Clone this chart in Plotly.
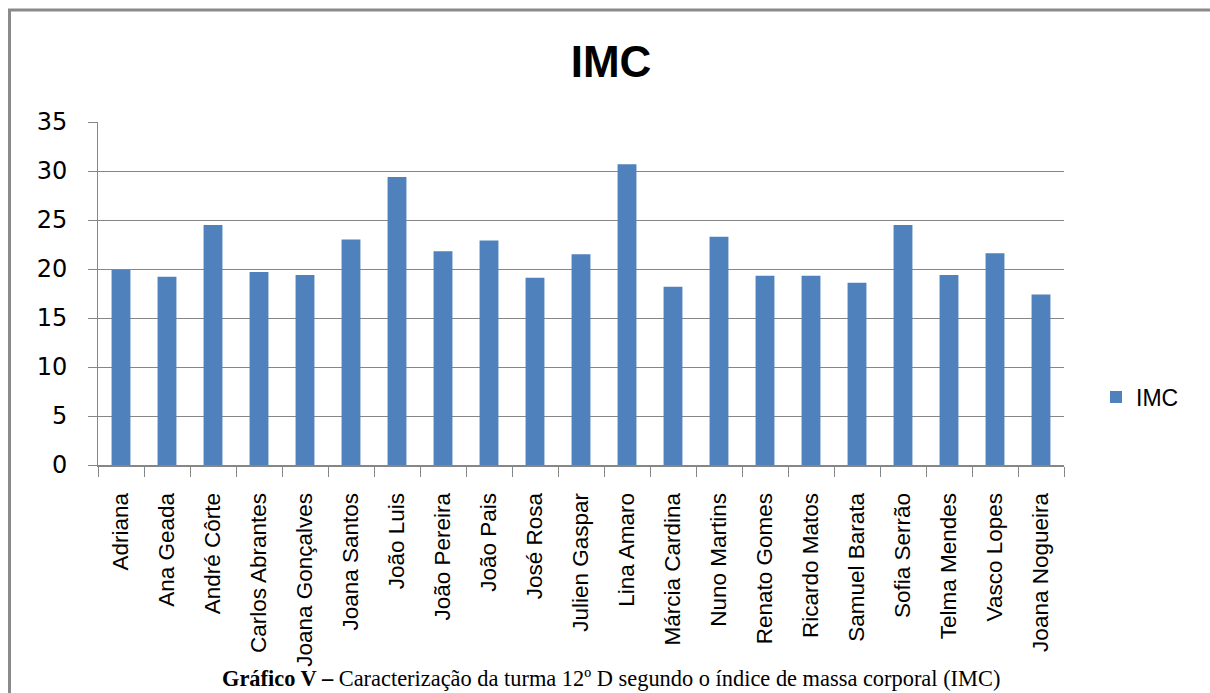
import plotly.graph_objects as go

names = ["Adriana", "Ana Geada", "André Côrte", "Carlos Abrantes", "Joana Gonçalves",
         "Joana Santos", "João Luis", "João Pereira", "João Pais", "José Rosa",
         "Julien Gaspar", "Lina Amaro", "Márcia Cardina", "Nuno Martins", "Renato Gomes",
         "Ricardo Matos", "Samuel Barata", "Sofia Serrão", "Telma Mendes", "Vasco Lopes",
         "Joana Nogueira"]
imc = [19.9, 19.2, 24.5, 19.7, 19.4, 23.0, 29.4, 21.8, 22.9, 19.1,
       21.5, 30.7, 18.2, 23.3, 19.3, 19.3, 18.6, 24.5, 19.4, 21.6, 17.4]
y_ticks = [0, 5, 10, 15, 20, 25, 30, 35]

W, H = 1210, 693
L, R, T, B = 98, 146, 122, 228
pw, ph = W - L - R, H - T - B

def px_x(p):
    return (p - L) / pw

def px_y(p):
    return (H - B - p) / ph

grey = "#868686"
fig = go.Figure(go.Bar(x=names, y=imc, name="IMC", marker_color="#4F81BD",
                       marker_line_width=0))

fig.update_layout(
    width=W, height=H,
    margin=dict(l=L, r=R, t=T, b=B),
    paper_bgcolor="white", plot_bgcolor="white",
    bargap=0.59,
    title=dict(text="<b>IMC</b>", x=0.505, xanchor="center", y=1 - 62 / H,
               yanchor="middle", font=dict(family="Liberation Sans", size=44, color="black")),
    showlegend=True,
    legend=dict(x=px_x(1096), y=px_y(397), xanchor="left", yanchor="middle",
                font=dict(family="Liberation Sans", size=23, color="black"),
                bgcolor="rgba(0,0,0,0)"),
    xaxis=dict(type="category", tickangle=-90, tickson="boundaries", ticks="outside",
               ticklen=10, tickcolor=grey, showline=True, linecolor=grey, linewidth=2,
               showgrid=False, ticklabelstandoff=17,
               tickfont=dict(family="Liberation Sans", size=22.5, color="black")),
    yaxis=dict(range=[0, 35], tickvals=y_ticks, ticks="outside", ticklen=9, tickcolor=grey,
               showline=True, linecolor=grey, linewidth=1, showgrid=True, gridcolor=grey,
               gridwidth=1, zeroline=False, ticklabelstandoff=16,
               tickfont=dict(family="DejaVu Sans", size=24, color="black")),
    font=dict(family="Liberation Sans"),
)

fig.add_shape(type="rect", xref="paper", yref="paper",
              x0=px_x(9.5), x1=px_x(1230), y0=px_y(720), y1=px_y(10),
              line=dict(color="#8a8a8a", width=3), fillcolor="rgba(0,0,0,0)", layer="below")

fig.add_annotation(
    text="<b>Gráfico V –</b> Caracterização da turma 12º D segundo o índice de massa corporal (IMC)",
    xref="paper", yref="paper", x=px_x(611), y=px_y(678), xanchor="center", yanchor="middle",
    showarrow=False, font=dict(family="Liberation Serif", size=22.4, color="black"))

fig.write_html("out.html", config={"displayModeBar": False},
               post_script="document.body.style.margin='0';")
